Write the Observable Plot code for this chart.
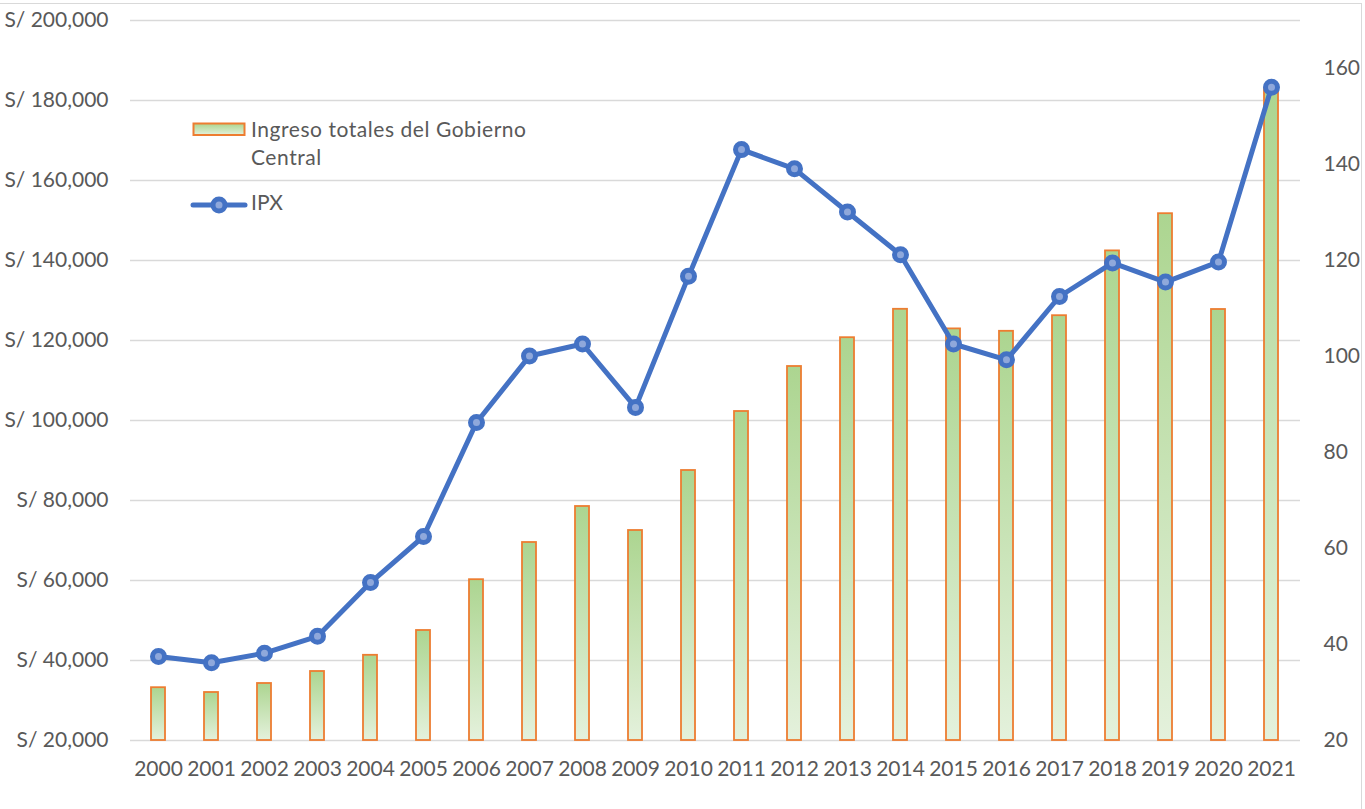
<!DOCTYPE html>
<html>
<head>
<meta charset="utf-8">
<script src="https://cdn.jsdelivr.net/npm/d3@7"></script>
<script src="https://cdn.jsdelivr.net/npm/@observablehq/plot@0.6"></script>
<style>
  html, body { margin: 0; padding: 0; background: #fff; }
  #wrap { position: relative; width: 1365px; height: 809px; overflow: hidden; font-family: Lato, sans-serif; color: #595959; }
  #frame { position: absolute; left: -2px; top: 3px; width: 1364px; height: 820px; border-top: 1.5px solid #d9d9d9; border-right: 1.5px solid #d9d9d9; box-sizing: border-box; }
  .leg { position: absolute; font-size: 21px; line-height: 28px; color: #595959; }
</style>
</head>
<body>
<svg width="0" height="0" style="position:absolute">
  <defs>
    <linearGradient id="barGrad" x1="0" y1="0" x2="0" y2="1">
      <stop offset="0" stop-color="#acd590"/>
      <stop offset="1" stop-color="#e4f1dc"/>
    </linearGradient>
  </defs>
</svg>
<div id="wrap">
  <div id="frame"></div>
  <div id="chart"></div>
  <svg class="leg" style="left:190px;top:118px" width="60" height="100">
    <rect x="3.5" y="5.5" width="51" height="11.5" fill="url(#barGrad)" stroke="#ed7d31" stroke-width="2"/>
    <line x1="3" x2="55" y1="87" y2="87" stroke="#4472c4" stroke-width="5" stroke-linecap="round"/>
    <circle cx="29" cy="87" r="6" fill="#8fa8db" stroke="#4472c4" stroke-width="5"/>
  </svg>
  <div class="leg" style="left:251px;top:115px;letter-spacing:0.55px">Ingreso totales del Gobierno<br>Central</div>
  <div class="leg" style="left:251px;top:188px">IPX</div>
</div>
<script>
const years = ["2000","2001","2002","2003","2004","2005","2006","2007","2008","2009","2010","2011","2012","2013","2014","2015","2016","2017","2018","2019","2020","2021"];
const ingresos = [33200,32000,34250,37250,41300,47500,60200,69500,78500,72500,87500,102250,113500,120700,127800,122900,122300,126200,142400,151700,127750,183000];
const ipx = [37.5,36.2,38.2,41.7,52.9,62.5,86.25,100.1,102.6,89.4,116.7,143.1,139.1,130.1,121.2,102.6,99.3,112.5,119.5,115.5,119.7,156.1];
const leftTicks = [20000,40000,60000,80000,100000,120000,140000,160000,180000,200000];
const rightTicks = [20,40,60,80,100,120,140,160];

const leftDomain = [20000, 200000];
const rightDomain = [20, 170];
const toLeft = v => leftDomain[0] + (v - rightDomain[0]) * (leftDomain[1] - leftDomain[0]) / (rightDomain[1] - rightDomain[0]);
const fromLeft = v => rightDomain[0] + (v - leftDomain[0]) * (rightDomain[1] - rightDomain[0]) / (leftDomain[1] - leftDomain[0]);

const data = years.map((y, i) => ({year: y, ingreso: ingresos[i], ipx: ipx[i]}));
const fmt = d3.format(",");

const chart = Plot.plot({
  width: 1365,
  height: 809,
  marginTop: 20,
  marginBottom: 69,
  marginLeft: 130,
  marginRight: 65,
  style: {fontFamily: "Lato, sans-serif", fontSize: "21px", color: "#595959", background: "transparent"},
  x: {type: "band", domain: years, paddingInner: 0.735, paddingOuter: 0.3675},
  y: {domain: leftDomain},
  marks: [
    Plot.gridY(leftTicks, {stroke: "#d9d9d9", strokeOpacity: 1, strokeWidth: 1.5}),
    Plot.barY(data, {x: "year", y1: 20000, y2: "ingreso", fill: "url(#barGrad)", stroke: "#ed7d31", strokeWidth: 1.8}),
    Plot.axisX({tickSize: 0, tickPadding: 21, label: null}),
    Plot.axisY(leftTicks, {anchor: "left", tickSize: 0, tickPadding: 22, label: null, tickFormat: d => "S/ " + fmt(d)}),
    Plot.axisY(rightTicks.map(toLeft), {anchor: "right", tickSize: 0, tickPadding: 23, label: null, tickFormat: d => String(Math.round(fromLeft(d)))}),
    Plot.line(data, {x: "year", y: d => toLeft(d.ipx), stroke: "#4472c4", strokeWidth: 5, strokeLinejoin: "round"}),
    Plot.dot(data, {x: "year", y: d => toLeft(d.ipx), r: 6, fill: "#8fa8db", stroke: "#4472c4", strokeWidth: 5})
  ]
});
document.getElementById("chart").appendChild(chart);
</script>
</body>
</html>
